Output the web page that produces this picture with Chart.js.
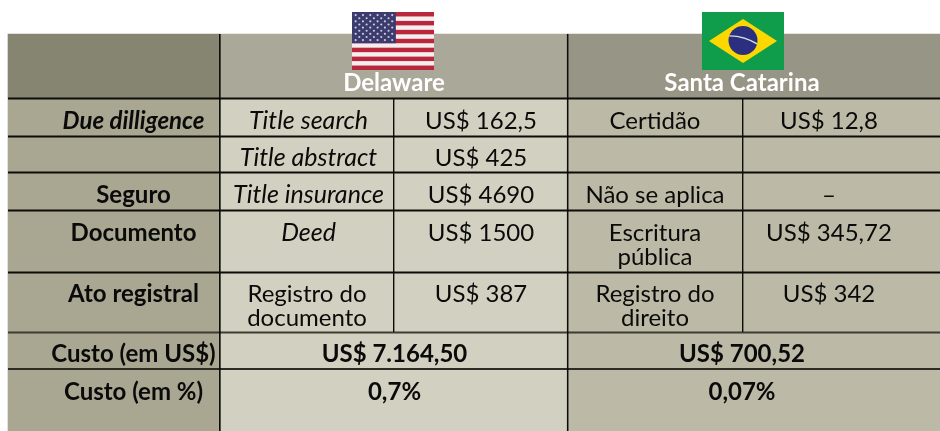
<!DOCTYPE html>
<html lang="pt">
<head>
<meta charset="utf-8">
<title>Custo: Delaware x Santa Catarina</title>
<script src="https://cdn.jsdelivr.net/npm/chart.js@4"></script>
<style>
    html, body { margin: 0; padding: 0; background: #fff; }
    canvas { display: block; }
</style>
</head>
<body>
<canvas id="tableChart" width="940" height="431"></canvas>
<script>
// Conteúdo da tabela
const regions = ['Delaware', 'Santa Catarina'];
const rowLabels = ['Due dilligence', '', 'Seguro', 'Documento', 'Ato registral'];
const delawareDocs = ['Title search', 'Title abstract', 'Title insurance', 'Deed', 'Registro do\ndocumento'];
const delawareCosts = ['US$ 162,5', 'US$ 425', 'US$ 4690', 'US$ 1500', 'US$ 387'];
const santaDocs = ['Certidão', '', 'Não se aplica', 'Escritura\npública', 'Registro do\ndireito'];
const santaCosts = ['US$ 12,8', '', '–', 'US$ 345,72', 'US$ 342'];
const summaryLabels = ['Custo (em US$)', 'Custo (em %)'];
const delawareSummary = ['US$ 7.164,50', '0,7%'];
const santaSummary = ['US$ 700,52', '0,07%'];

// Grade (unidades dos eixos = pixels da página)
const colEdges = [8, 219, 393, 567, 742, 940];
const rowEdges = [34, 98, 136, 172, 210, 272, 332, 369, 431];
const baselines = [129, 166, 203, 241, 301.5, 362, 400];
const textCols = [133.5, 308.5, 481, 655, 829];
const mergedCols = [394.5, 742];
const lineHeight = 24;
const FONT = 'Lato, "Open Sans", sans-serif';

const C = {
    headLeft: '#868572', headMid: '#a9a899', headRight: '#979585',
    label: '#a9a791', light: '#d2d1c1', dark: '#bcb9a6', line: '#0c0c08'
};

// Uma série de barras flutuantes por linha da tabela
function rowDataset(r, spans, colors) {
    const center = (rowEdges[r] + rowEdges[r + 1]) / 2;
    return {
        data: spans.map(s => ({ x: [colEdges[s[0]], colEdges[s[1]]], y: center })),
        backgroundColor: colors,
        barThickness: rowEdges[r + 1] - rowEdges[r],
        borderWidth: 0
    };
}

const fullSpans = [[0, 1], [1, 2], [2, 3], [3, 4], [4, 5]];
const mergedSpans = [[0, 1], [1, 3], [3, 5]];
const datasets = [rowDataset(0, mergedSpans, [C.headLeft, C.headMid, C.headRight])];
rowLabels.forEach((_, i) => {
    datasets.push(rowDataset(i + 1, fullSpans, [C.label, C.light, C.light, C.dark, C.dark]));
});
summaryLabels.forEach((_, i) => {
    datasets.push(rowDataset(i + 6, mergedSpans, [C.label, C.light, C.dark]));
});

function drawText(ctx, x, y, text, font, color, size) {
    ctx.font = font + ' ' + (size || 24) + 'px ' + FONT;
    ctx.fillStyle = color || '#0a0a0a';
    ctx.textAlign = 'center';
    ctx.textBaseline = 'alphabetic';
    text.split('\n').forEach((line, i) => ctx.fillText(line, x, y + i * lineHeight));
}

function drawUsFlag(ctx, x, y, w, h) {
    const stripe = h / 13;
    ctx.fillStyle = '#f4eeee';
    ctx.fillRect(x, y, w, h);
    ctx.fillStyle = '#b9273c';
    for (let i = 0; i < 13; i += 2) ctx.fillRect(x, y + i * stripe, w, stripe);
    const cw = w * 0.535, ch = stripe * 7;
    ctx.fillStyle = '#3c3b6e';
    ctx.fillRect(x, y, cw, ch);
    ctx.fillStyle = '#c9c9dc';
    for (let r = 0; r < 9; r++) {
        const n = r % 2 ? 5 : 6;
        for (let c = 0; c < n; c++) {
            const sx = x + cw * ((c + (r % 2 ? 1 : 0.5)) / 6);
            const sy = y + ch * ((r + 1) / 10);
            ctx.beginPath();
            ctx.arc(sx, sy, 1.1, 0, Math.PI * 2);
            ctx.fill();
        }
    }
}

function drawBrFlag(ctx, x, y, w, h) {
    ctx.fillStyle = '#0f9d4c';
    ctx.fillRect(x, y, w, h);
    const cx = x + w / 2, cy = y + h / 2;
    ctx.fillStyle = '#fdd800';
    ctx.beginPath();
    ctx.moveTo(x + 7, cy);
    ctx.lineTo(cx, y + 7);
    ctx.lineTo(x + w - 7, cy);
    ctx.lineTo(cx, y + h - 7);
    ctx.closePath();
    ctx.fill();
    ctx.save();
    ctx.beginPath();
    ctx.arc(cx, cy - 0.5, 14.5, 0, Math.PI * 2);
    ctx.fillStyle = '#2b2f7f';
    ctx.fill();
    ctx.clip();
    ctx.strokeStyle = '#d8dde0';
    ctx.lineWidth = 1.4;
    ctx.beginPath();
    ctx.moveTo(cx - 16, cy - 5);
    ctx.quadraticCurveTo(cx, cy - 6, cx + 16, cy + 4);
    ctx.stroke();
    ctx.restore();
}

// Linhas, textos e bandeiras desenhados por cima das barras
const tablePlugin = {
    id: 'tablePlugin',
    afterDatasetsDraw(chart) {
        const { ctx, scales: { x, y } } = chart;
        const px = v => x.getPixelForValue(v);
        const py = v => y.getPixelForValue(v);

        ctx.save();
        const hLine = (v, w, col) => {
            ctx.lineWidth = w;
            ctx.strokeStyle = col;
            ctx.beginPath();
            ctx.moveTo(px(colEdges[0]), py(v));
            ctx.lineTo(px(colEdges[5]), py(v));
            ctx.stroke();
        };
        rowEdges.slice(1, 6).forEach(v => hLine(v + 0.5, 2, C.line));
        hLine(332.5, 2, '#3d3d33');
        hLine(369, 2, '#2c2c24');

        const vLine = (v, a, b, w) => {
            ctx.lineWidth = w;
            ctx.strokeStyle = C.line;
            ctx.beginPath();
            ctx.moveTo(px(v), py(a));
            ctx.lineTo(px(v), py(b));
            ctx.stroke();
        };
        vLine(colEdges[1] + 0.8, 34, 431, 1.7);
        vLine(colEdges[3] + 0.7, 34, 431, 1.5);
        vLine(colEdges[2] + 0.7, 98, 332, 1.4);
        vLine(colEdges[4] + 0.7, 98, 332, 1.4);

        drawUsFlag(ctx, px(352), py(12), 82, 58);
        drawBrFlag(ctx, px(702), py(12), 82, 58);
        drawText(ctx, px(394), py(91), regions[0], 'bold', '#fff');
        drawText(ctx, px(742), py(91), regions[1], 'bold', '#fff');

        rowLabels.forEach((label, i) => {
            const by = py(baselines[i]);
            drawText(ctx, px(textCols[0]), by, label, i === 0 ? 'italic bold' : 'bold');
            if (i < 4) {
                drawText(ctx, px(textCols[1]), by, delawareDocs[i], 'italic', null, 25);
            } else {
                drawText(ctx, px(textCols[1] - 1.5), by, delawareDocs[i], 'normal');
            }
            drawText(ctx, px(textCols[2]), by, delawareCosts[i], 'normal');
            drawText(ctx, px(textCols[3]), by, santaDocs[i], 'normal');
            drawText(ctx, px(textCols[4]), by, santaCosts[i], 'normal');
        });
        summaryLabels.forEach((label, i) => {
            const by = py(baselines[i + 5]);
            drawText(ctx, px(textCols[0]), by, label, 'bold');
            drawText(ctx, px(mergedCols[0]), by, delawareSummary[i], 'bold');
            drawText(ctx, px(mergedCols[1]), by, santaSummary[i], 'bold');
        });
        ctx.restore();
    }
};

const tableChart = new Chart(document.getElementById('tableChart').getContext('2d'), {
    type: 'bar',
    data: { datasets: datasets },
    options: {
        indexAxis: 'y',
        responsive: false,
        animation: false,
        grouped: false,
        layout: { padding: 0 },
        scales: {
            x: { type: 'linear', display: false, min: 0, max: 940 },
            y: { type: 'linear', display: false, min: 0, max: 431, reverse: true, offset: false }
        },
        plugins: { legend: { display: false }, tooltip: { enabled: false } }
    },
    plugins: [tablePlugin]
});
</script>
</body>
</html>
